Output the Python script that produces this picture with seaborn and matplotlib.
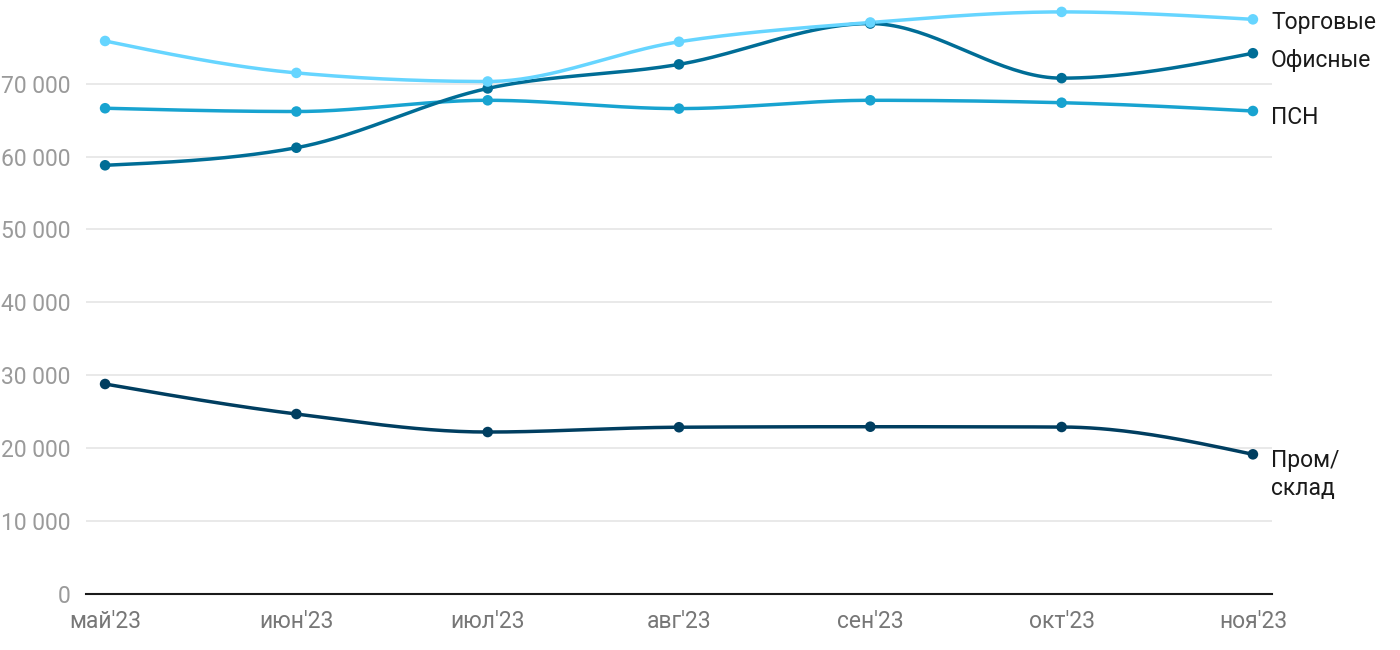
import matplotlib
matplotlib.use("Agg")
import matplotlib.pyplot as plt
import numpy as np
import pandas as pd
import seaborn as sns

# data
months = ["май'23", "июн'23", "июл'23", "авг'23", "сен'23", "окт'23", "ноя'23"]
trade = [75860, 71480, 70300, 75750, 78400, 79850, 78830]
office = [58800, 61210, 69350, 72650, 78250, 70760, 74180]
psn = [66630, 66180, 67720, 66580, 67720, 67390, 66250]
prom = [28780, 24660, 22190, 22850, 22920, 22880, 19130]

names = ["Торговые", "Офисные", "ПСН", "Пром/\nсклад"]
colors = ["#66d5ff", "#006d96", "#18a3d0", "#003e60"]


def monotone_curve(y, n=40):
    # monotone cubic (same idea as d3 curveMonotoneX), uniform x spacing
    y = np.asarray(y, dtype=float)
    s = np.diff(y)
    t = np.zeros(len(y))
    for i in range(1, len(y) - 1):
        s0, s1 = s[i - 1], s[i]
        p = (s0 + s1) / 2
        t[i] = (np.sign(s0) + np.sign(s1)) * min(abs(s0), abs(s1), 0.5 * abs(p))
    t[0] = (3 * s[0] - t[1]) / 2
    t[-1] = (3 * s[-1] - t[-2]) / 2
    xs, ys = [], []
    for i in range(len(y) - 1):
        u = np.linspace(0, 1, n, endpoint=False)
        h00 = 2 * u**3 - 3 * u**2 + 1
        h10 = u**3 - 2 * u**2 + u
        h01 = -2 * u**3 + 3 * u**2
        h11 = u**3 - u**2
        xs.append(i + u)
        ys.append(h00 * y[i] + h10 * t[i] + h01 * y[i + 1] + h11 * t[i + 1])
    xs.append([len(y) - 1])
    ys.append([y[-1]])
    return np.concatenate(xs), np.concatenate(ys)


sns.set_style("white")
plt.rcParams["font.family"] = ["Roboto", "DejaVu Sans"]

fig = plt.figure(figsize=(14, 6.5), dpi=100)
ax = fig.add_axes([0.0614, 0.0866, 0.8472, 0.9134])

series = [trade, office, psn, prom]
# draw from the bottom series up, light line on top like the original
for vals, col in zip(series[::-1], colors[::-1]):
    cx, cy = monotone_curve(vals)
    sns.lineplot(x=cx, y=cy, ax=ax, color=col, linewidth=2.5, zorder=3)
    pts = pd.DataFrame({"x": range(len(months)), "y": vals})
    sns.scatterplot(data=pts, x="x", y="y", ax=ax, color=col, s=58,
                    edgecolor="none", zorder=4, clip_on=False)

# series labels at the right end, nudged (points) so they don't collide
last = len(months) - 1
ax.annotate(names[0], (last, trade[-1]), xytext=(13, -2), textcoords="offset points",
            fontsize=16.5, color="#1a1a1a", va="center", annotation_clip=False)
ax.annotate(names[1], (last, office[-1]), xytext=(13, -5.5), textcoords="offset points",
            fontsize=16.5, color="#1a1a1a", va="center", annotation_clip=False)
ax.annotate(names[2], (last, psn[-1]), xytext=(13, -4.5), textcoords="offset points",
            fontsize=16.5, color="#1a1a1a", va="center", annotation_clip=False)
ax.annotate(names[3], (last, prom[-1]), xytext=(13, 4), textcoords="offset points",
            fontsize=16.5, color="#1a1a1a", va="top", linespacing=1.3,
            annotation_clip=False)

ax.set_xlim(-0.1, 6.1)
ax.set_ylim(0, 81485)
yt = np.arange(0, 80000, 10000)
ax.set_yticks(yt)
ax.set_yticklabels([f"{v:,}".replace(",", " ") for v in yt])
ax.set_xticks(range(len(months)))
ax.set_xticklabels(months)
ax.tick_params(axis="y", length=0, pad=11, labelsize=16.5, labelcolor="#9a9a9a")
ax.tick_params(axis="x", length=0, pad=12, labelsize=16.5, labelcolor="#777777")
ax.grid(axis="y", color="#e3e3e3", linewidth=1.1)
ax.grid(axis="x", visible=False)
for side in ["top", "right", "left"]:
    ax.spines[side].set_visible(False)
ax.spines["bottom"].set_color("#1a1a1a")
ax.spines["bottom"].set_linewidth(1.5)
ax.spines["bottom"].set_zorder(5)
ax.set_xlabel("")
ax.set_ylabel("")

fig.savefig("out.png", dpi=100)
